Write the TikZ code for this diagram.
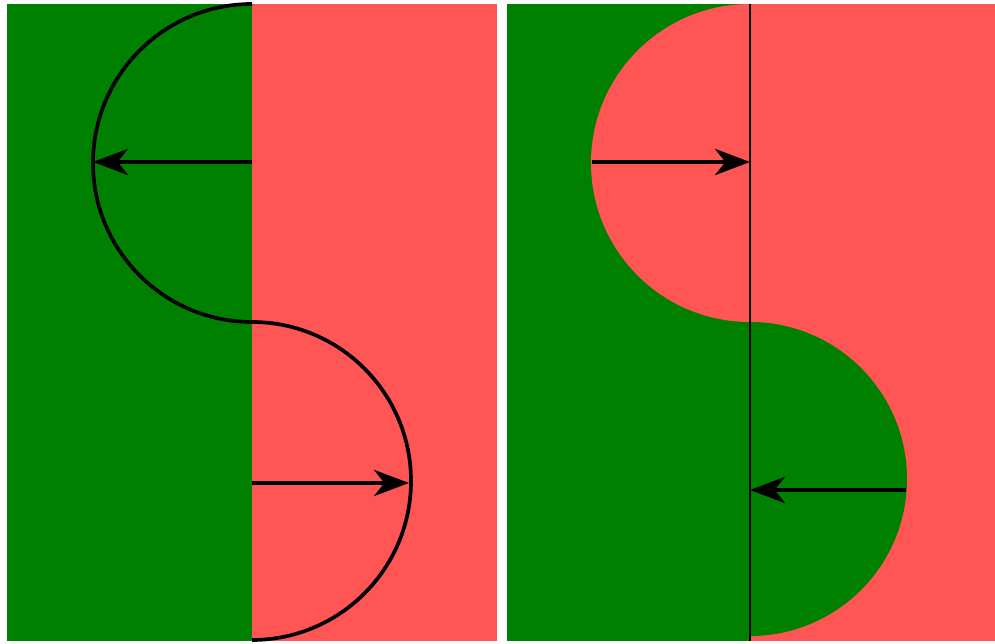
\documentclass[tikz,border=0pt]{standalone}
\usetikzlibrary{arrows.meta}
\definecolor{sgreen}{RGB}{0,128,0}
\definecolor{sred}{RGB}{255,85,85}
\begin{document}
\begin{tikzpicture}[x=0.02cm,y=0.02cm,
    radius arrow/.style={-{Stealth[length=20pt,width=15pt,inset=6pt]},line width=1.8pt}]
  \useasboundingbox (0,0) rectangle (995,644);

  % left panel
  \fill[sgreen] (7,3) rectangle (252,640);
  \fill[sred] (252,3) rectangle (497,640);
  \coordinate (ltop) at (252,482);
  \coordinate (ltopend) at (93,482);
  \coordinate (lbot) at (252,161);
  \coordinate (lbotend) at (409,161);
  \draw[line width=2.1pt] (252,640) arc[start angle=90,end angle=270,radius=159]
    arc[start angle=90,end angle=-90,radius=159];
  \draw[radius arrow] (ltop) -- (ltopend);
  \draw[radius arrow] (lbot) -- (lbotend);

  % right panel
  \fill[sgreen] (507,3) rectangle (750,640);
  \fill[sred] (750,3) rectangle (995,640);
  \fill[sred] (750,640) arc[start angle=90,end angle=270,radius=159] -- cycle;
  \fill[sgreen] (750,322) arc[start angle=90,end angle=-90,radius=157] -- cycle;
  \draw[line width=1.4pt] (750,3) -- (750,640);
  \coordinate (rtop) at (592,482);
  \coordinate (rtopend) at (750,482);
  \coordinate (rbot) at (906,154);
  \coordinate (rbotend) at (750,154);
  \draw[radius arrow] (rtop) -- (rtopend);
  \draw[radius arrow] (rbot) -- (rbotend);
\end{tikzpicture}
\end{document}
